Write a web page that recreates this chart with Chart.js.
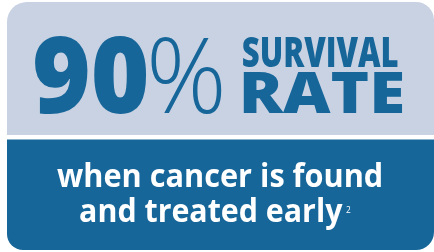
<!DOCTYPE html>
<html>
<head>
<meta charset="utf-8">
<script src="https://cdn.jsdelivr.net/npm/chart.js@4"></script>
<style>
  html, body { margin: 0; padding: 0; background: #ffffff; }
  #wrap { width: 434px; height: 252px; }
</style>
</head>
<body>
<div id="wrap"><canvas id="stat" width="434" height="252"></canvas></div>
<script>
// Valores do gráfico
const statValues = [90];
const statUnits = ['%'];
const headlineLines = ['SURVIVAL', 'RATE'];
const captionLines = ['when cancer is found', 'and treated early'];
const footnoteRefs = ['2'];

const LIGHT = '#c8d2e3';
const DARK = '#17669a';

/**
 * Desenha texto ajustado a uma caixa (esquerda, direita, topo, linha de base)
 */
function drawFit(ctx, text, font, left, right, top, baseline) {
    ctx.save();
    ctx.font = font;
    const m = ctx.measureText(text);
    const inkW = m.actualBoundingBoxLeft + m.actualBoundingBoxRight;
    const sx = (right - left) / inkW;
    const sy = (baseline - top) / m.actualBoundingBoxAscent;
    ctx.translate(left, baseline);
    ctx.scale(sx, sy);
    ctx.textBaseline = 'alphabetic';
    ctx.textAlign = 'left';
    ctx.fillText(text, m.actualBoundingBoxLeft, 0);
    ctx.restore();
}

function roundPanel(ctx, x, y, w, h, radii, color) {
    ctx.save();
    ctx.beginPath();
    ctx.roundRect(x, y, w, h, radii);
    ctx.fillStyle = color;
    ctx.fill();
    ctx.restore();
}

const infographicPlugin = {
    id: 'infographic',
    afterDraw(chart) {
        const ctx = chart.ctx;
        // painéis
        roundPanel(ctx, 7, 2, 427, 133, [20, 18, 0, 0], LIGHT);
        roundPanel(ctx, 7, 139.5, 427, 110.5, [0, 0, 18, 16], DARK);

        // 90 %
        ctx.fillStyle = DARK;
        drawFit(ctx, String(statValues[0]), '800 100px "Open Sans"', 35, 147, 37, 113);
        drawFit(ctx, statUnits[0], '300 100px "Open Sans"', 151, 222, 37, 113);

        // SURVIVAL / RATE
        drawFit(ctx, headlineLines[0], '800 50px "Open Sans"', 243, 398, 36, 67);
        drawFit(ctx, headlineLines[1], '800 60px "Open Sans"', 243, 403, 73, 113);

        // legenda inferior
        ctx.fillStyle = '#ffffff';
        drawFit(ctx, captionLines[0], '700 34px "Open Sans"', 57, 381, 163, 187);
        drawFit(ctx, captionLines[1], '700 34px "Open Sans"', 80, 343, 197, 222);
        drawFit(ctx, footnoteRefs[0], '400 10px "Open Sans"', 346, 351, 206, 213);
    }
};

new Chart(document.getElementById('stat').getContext('2d'), {
    type: 'bar',
    data: { labels: [], datasets: [] },
    options: {
        responsive: false,
        animation: false,
        events: [],
        layout: { padding: 0 },
        plugins: { legend: { display: false }, tooltip: { enabled: false } },
        scales: { x: { display: false }, y: { display: false } }
    },
    plugins: [infographicPlugin]
});
</script>
</body>
</html>
